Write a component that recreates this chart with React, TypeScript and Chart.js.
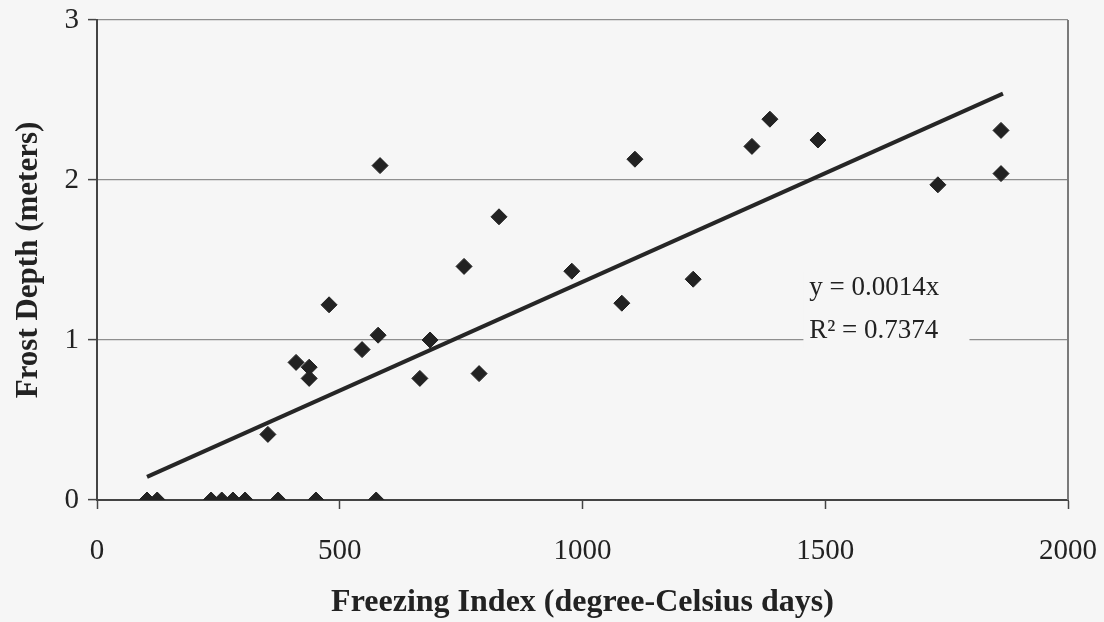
import { useEffect, useRef } from "react";
import { Chart, registerables } from "chart.js";

Chart.register(...registerables);

const freezingIndex = [103, 124, 235, 257, 280, 305, 373, 451, 575, 352, 410, 437, 437, 478, 546, 579, 583, 686, 665, 756, 787, 828, 978, 1081, 1108, 1228, 1349, 1386, 1485, 1732, 1862, 1862];
const frostDepth = [0, 0, 0, 0, 0, 0, 0, 0, 0, 0.41, 0.86, 0.83, 0.76, 1.22, 0.94, 1.03, 2.09, 1.0, 0.76, 1.46, 0.79, 1.77, 1.43, 1.23, 2.13, 1.38, 2.21, 2.38, 2.25, 1.97, 2.31, 2.04];

// Trend line end points
const trendX = [103, 1866];
const trendY = [0.145, 2.54];

// Axis ticks
const xTicks = [0, 500, 1000, 1500, 2000];
const yTicks = [0, 1, 2, 3];

const equationLines = ["y = 0.0014x", "R² = 0.7374"];
const xTitle = "Freezing Index (degree-Celsius days)";
const yTitle = "Frost Depth (meters)";

const SERIF = '"Liberation Serif", "Times New Roman", serif';
const BG = "#f6f6f6";
const INK = "#222222";

export default function App() {
  const ref = useRef<HTMLCanvasElement | null>(null);

  useEffect(() => {
    document.body.style.margin = "0";
    document.body.style.background = BG;
    const canvas = ref.current;
    if (!canvas) return;

    const bgPlugin = {
      id: "bg",
      beforeDraw(chart: any) {
        const c = chart.ctx;
        c.save();
        c.fillStyle = BG;
        c.fillRect(0, 0, chart.width, chart.height);
        c.restore();
      },
      beforeDatasetsDraw(chart: any) {
        const { ctx: c, chartArea: a } = chart;
        c.save();
        // right frame line
        c.strokeStyle = "#7a7a7a";
        c.lineWidth = 2;
        c.beginPath();
        c.moveTo(a.right, a.top);
        c.lineTo(a.right, a.bottom);
        c.stroke();
        // equation label box (covers gridline)
        const xs = chart.scales.x;
        const ys = chart.scales.y;
        const bx = xs.getPixelForValue(1455);
        const bxr = xs.getPixelForValue(1797);
        const byTop = ys.getPixelForValue(1.43);
        const byBot = ys.getPixelForValue(0.95);
        c.fillStyle = BG;
        c.fillRect(bx, byTop, bxr - bx, byBot - byTop);
        c.fillStyle = INK;
        c.font = `27px ${SERIF}`;
        c.textAlign = "left";
        c.textBaseline = "alphabetic";
        const tx = xs.getPixelForValue(1467);
        c.fillText(equationLines[0], tx, ys.getPixelForValue(1.28));
        c.fillText(equationLines[1], tx, ys.getPixelForValue(1.015));
        c.restore();
      },
    };

    const chart = new Chart(canvas, {
      type: "scatter",
      data: {
        datasets: [
          {
            label: "Trend",
            data: trendX.map((x, i) => ({ x, y: trendY[i] })),
            showLine: true,
            borderColor: "#262626",
            borderWidth: 4,
            pointRadius: 0,
            fill: false,
          },
          {
            label: "Frost depth",
            data: freezingIndex.map((x, i) => ({ x, y: frostDepth[i] })),
            pointStyle: "rectRot",
            pointRadius: 8,
            pointBorderWidth: 1,
            backgroundColor: "#222",
            borderColor: "#222",
          },
        ],
      },
      options: {
        responsive: false,
        animation: false,
        devicePixelRatio: 1,
        layout: { padding: { top: 20, right: 36, left: 0, bottom: 0 } },
        plugins: { legend: { display: false }, tooltip: { enabled: false } },
        scales: {
          x: {
            type: "linear",
            min: 0,
            max: 2000,
            afterBuildTicks: (s: any) => {
              s.ticks = xTicks.map((v) => ({ value: v }));
            },
            afterFit: (s: any) => {
              s.height = 122;
              s.paddingLeft = 0;
              s.paddingRight = 0;
            },
            grid: {
              drawOnChartArea: false,
              drawTicks: true,
              tickLength: 9,
              tickColor: "#444",
              tickWidth: 1.5,
            },
            border: { display: true, color: "#444", width: 2 },
            ticks: {
              color: INK,
              font: { family: SERIF, size: 29 },
              padding: 25,
              maxRotation: 0,
              autoSkip: false,
              callback: (v: any) => String(v),
            },
            title: {
              display: true,
              text: xTitle,
              color: INK,
              font: { family: SERIF, size: 32, weight: "bold" },
              padding: { top: 0, bottom: 0 },
            },
          },
          y: {
            type: "linear",
            min: 0,
            max: 3,
            afterBuildTicks: (s: any) => {
              s.ticks = yTicks.map((v) => ({ value: v }));
            },
            afterFit: (s: any) => {
              s.width = 97;
              s.paddingTop = 0;
              s.paddingBottom = 0;
            },
            grid: {
              drawOnChartArea: true,
              color: (ctx: any) => (ctx.tick && ctx.tick.value === 0 ? "rgba(0,0,0,0)" : "#8f8f8f"),
              lineWidth: 1.2,
              drawTicks: true,
              tickLength: 9,
              tickColor: "#444",
              tickWidth: 1.5,
            },
            border: { display: true, color: "#444", width: 2 },
            ticks: {
              color: INK,
              font: { family: SERIF, size: 29 },
              padding: 9,
              autoSkip: false,
              callback: (v: any) => String(v),
            },
            title: {
              display: true,
              text: yTitle,
              color: INK,
              font: { family: SERIF, size: 31, weight: "bold" },
              padding: { top: 10, bottom: 0 },
            },
          },
        },
      },
      plugins: [bgPlugin],
    });

    return () => chart.destroy();
  }, []);

  return (
    <div style={{ width: 1104, height: 622 }}>
      <canvas ref={ref} width={1104} height={622} />
    </div>
  );
}
